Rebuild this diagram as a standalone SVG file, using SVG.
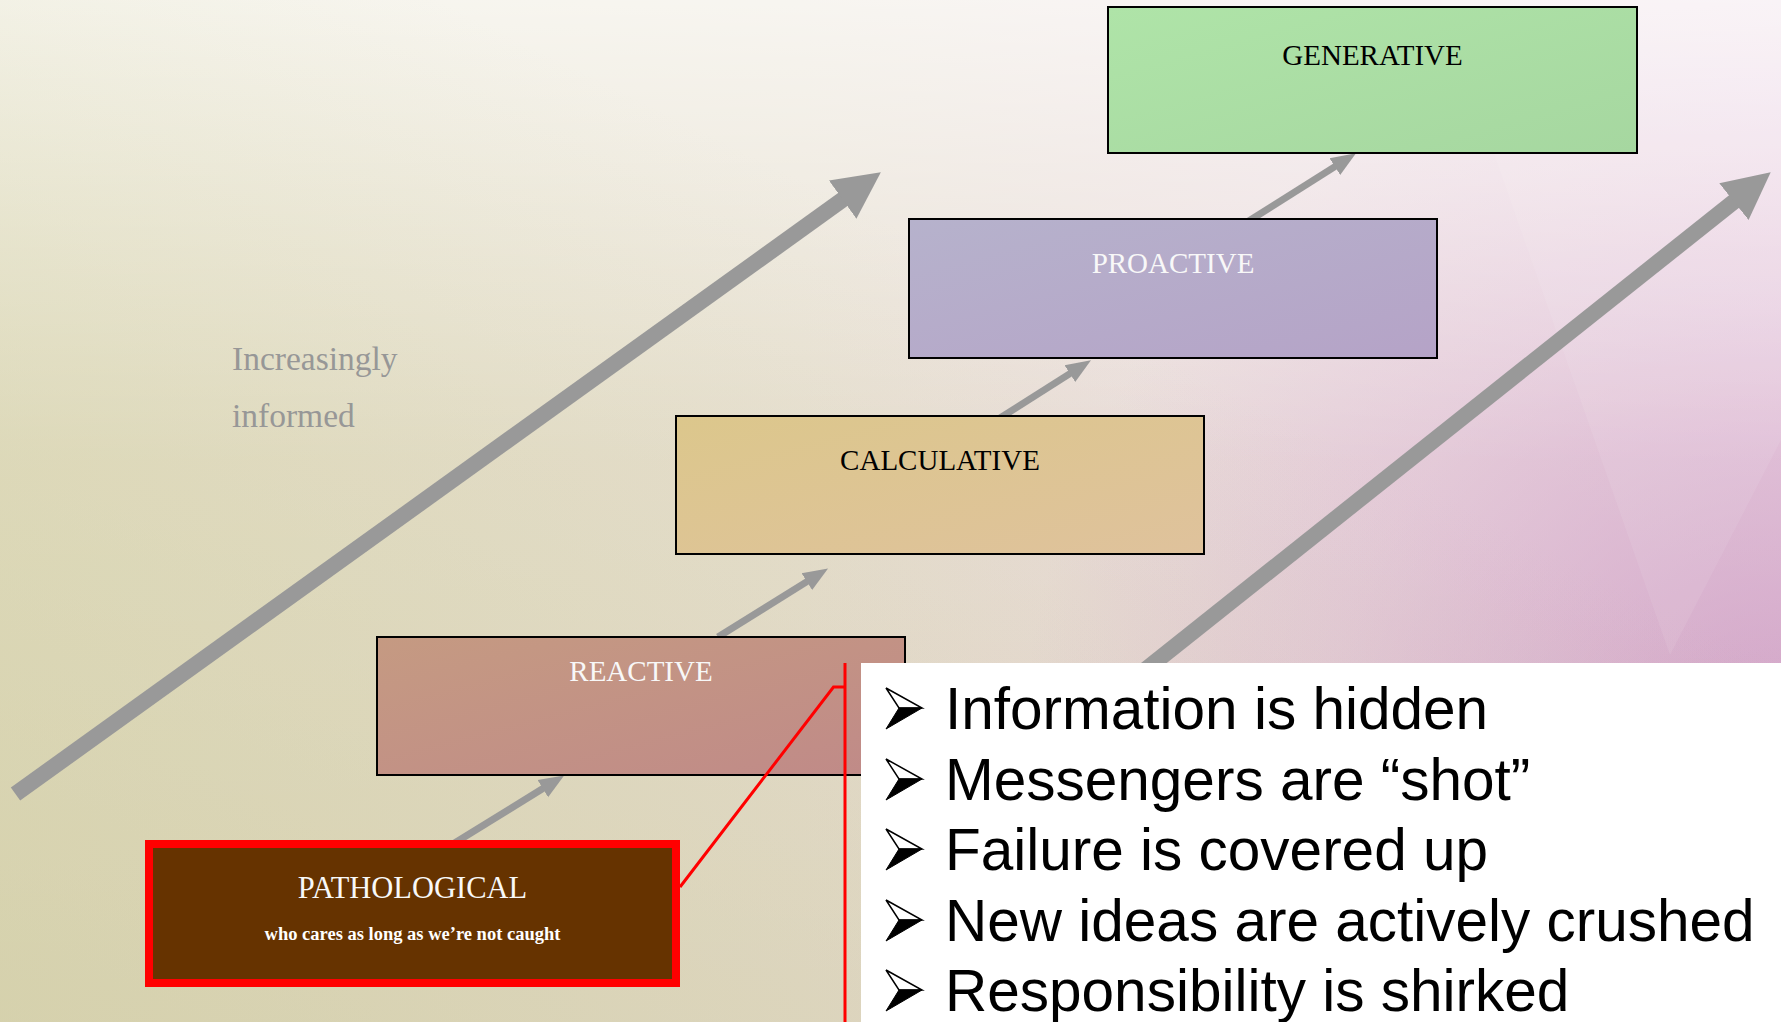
<svg xmlns="http://www.w3.org/2000/svg" xmlns:xlink="http://www.w3.org/1999/xlink" width="1781" height="1022" viewBox="0 0 1781 1022">
  <defs>
    <linearGradient id="bgx" x1="0" y1="0" x2="1" y2="0">
      <stop offset="0" stop-color="#e0dcbc"/>
      <stop offset="0.45" stop-color="#e4dccb"/>
      <stop offset="0.75" stop-color="#e8d6da"/>
      <stop offset="1" stop-color="#ebd2e2"/>
    </linearGradient>
    <linearGradient id="bgy" x1="0" y1="0" x2="0" y2="1">
      <stop offset="0" stop-color="#ffffff" stop-opacity="0.72"/>
      <stop offset="0.45" stop-color="#ffffff" stop-opacity="0.1"/>
      <stop offset="1" stop-color="#ffffff" stop-opacity="0"/>
    </linearGradient>
    <radialGradient id="bgr" gradientUnits="userSpaceOnUse" cx="1781" cy="760" r="760">
      <stop offset="0" stop-color="#c48cb8" stop-opacity="0.75"/>
      <stop offset="0.6" stop-color="#c890bc" stop-opacity="0.25"/>
      <stop offset="1" stop-color="#c890bc" stop-opacity="0"/>
    </radialGradient>
    <linearGradient id="bgd" x1="0" y1="1" x2="0.6" y2="0.3">
      <stop offset="0" stop-color="#c9c49a" stop-opacity="0.45"/>
      <stop offset="1" stop-color="#c9c49a" stop-opacity="0"/>
    </linearGradient>
    <linearGradient id="gGen" x1="0" y1="0" x2="1" y2="1">
      <stop offset="0" stop-color="#afe4a8"/>
      <stop offset="1" stop-color="#a6d7a0"/>
    </linearGradient>
    <linearGradient id="gPro" x1="0" y1="0" x2="1" y2="1">
      <stop offset="0" stop-color="#b6b2cc"/>
      <stop offset="1" stop-color="#b5a3c7"/>
    </linearGradient>
    <linearGradient id="gCal" x1="0" y1="0" x2="1" y2="1">
      <stop offset="0" stop-color="#dcc78c"/>
      <stop offset="1" stop-color="#dfc29c"/>
    </linearGradient>
    <linearGradient id="gRea" x1="0" y1="0" x2="1" y2="1">
      <stop offset="0" stop-color="#c59a82"/>
      <stop offset="1" stop-color="#c08a88"/>
    </linearGradient>
    <marker id="hs" markerUnits="userSpaceOnUse" markerWidth="26" markerHeight="22" viewBox="0 -11 26 22" refX="1" refY="0" orient="auto">
      <path d="M0,-10 L25,0 L0,10 Z" fill="#999999"/>
    </marker>
    <marker id="hb" markerUnits="userSpaceOnUse" markerWidth="48" markerHeight="50" viewBox="0 -25 48 50" refX="1" refY="0" orient="auto">
      <path d="M0,-23.5 L47,0 L0,23.5 Z" fill="#999999"/>
    </marker>
    <g id="bul">
      <path d="M886,-41 L922,-21 L899,-21 Z" fill="#ffffff" stroke="#000000" stroke-width="1.5" stroke-linejoin="miter"/>
      <path d="M899,-21 L922,-21 L886,0 Z" fill="#000000" stroke="#000000" stroke-width="1"/>
    </g>
  </defs>
  <style>
    .box { stroke: #000000; stroke-width: 2; }
    .lbl { font-family: "Liberation Serif", "DejaVu Serif", serif; font-size: 29px; text-anchor: middle; }
    .dark { fill: #000000; }
    .light { fill: #f8f8f8; }
    .sub { font-family: "Liberation Serif", "DejaVu Serif", serif; font-size: 18.5px; font-weight: bold; text-anchor: middle; fill: #ffffff; }
    .note { font-family: "Liberation Serif", "DejaVu Serif", serif; font-size: 33.5px; fill: #979797; }
    .big { stroke: #999999; stroke-width: 16; fill: none; }
    .small { stroke: #999999; stroke-width: 7; fill: none; }
    .bt { font-family: "Liberation Sans", Arial, sans-serif; font-size: 58.5px; fill: #000000; }
  </style>

  <!-- background -->
  <rect x="0" y="0" width="1781" height="1022" fill="url(#bgx)"/>
  <rect x="0" y="0" width="1781" height="1022" fill="url(#bgr)"/>
  <rect x="0" y="0" width="1781" height="1022" fill="url(#bgy)"/>
  <rect x="0" y="0" width="1781" height="1022" fill="url(#bgd)"/>
  <polygon points="1440,0 1781,0 1781,440 1670,655" fill="#ffffff" opacity="0.08"/>

  <text class="note" x="232" y="370">Increasingly</text>
  <text class="note" x="232" y="427">informed</text>

  <!-- connectors -->
  <g id="connectors">
    <line class="big" x1="15.5" y1="794" x2="843.5" y2="199.1" marker-end="url(#hb)"/>
    <line class="big" x1="1032" y1="760" x2="1734.7" y2="201" marker-end="url(#hb)"/>
    <line class="small" x1="453" y1="844" x2="543.7" y2="788.1" marker-end="url(#hs)"/>
    <line class="small" x1="718" y1="637" x2="807.7" y2="581.1" marker-end="url(#hs)"/>
    <line class="small" x1="981" y1="430" x2="1070.7" y2="373.1" marker-end="url(#hs)"/>
    <line class="small" x1="1244" y1="224" x2="1335.7" y2="166.1" marker-end="url(#hs)"/>
  </g>

  <g id="generative">
    <rect class="box" x="1108" y="7" width="529" height="146" fill="url(#gGen)"/>
    <text class="lbl dark" x="1372.5" y="65">GENERATIVE</text>
  </g>
  <g id="proactive">
    <rect class="box" x="909" y="219" width="528" height="139" fill="url(#gPro)"/>
    <text class="lbl light" x="1173" y="273">PROACTIVE</text>
  </g>
  <g id="calculative">
    <rect class="box" x="676" y="416" width="528" height="138" fill="url(#gCal)"/>
    <text class="lbl dark" x="940" y="470">CALCULATIVE</text>
  </g>
  <g id="reactive">
    <rect class="box" x="377" y="637" width="528" height="138" fill="url(#gRea)"/>
    <text class="lbl light" x="641" y="681">REACTIVE</text>
  </g>
  <g id="pathological">
    <rect x="149" y="844" width="527" height="139" fill="#663300" stroke="#ff0000" stroke-width="8"/>
    <text class="lbl light" x="412.5" y="898" style="font-size:30.5px">PATHOLOGICAL</text>
    <text class="sub" x="412.5" y="940">who cares as long as we’re not caught</text>
  </g>

  <!-- callout -->
  <g id="callout">
    <polyline points="680,887 833.5,687 846,687" fill="none" stroke="#ff0000" stroke-width="3"/>
    <line x1="845" y1="663" x2="845" y2="1022" stroke="#ff0000" stroke-width="3"/>
    <rect x="861" y="663" width="920" height="359" fill="#ffffff"/>
    <use xlink:href="#bul" y="729"/>
    <use xlink:href="#bul" y="800"/>
    <use xlink:href="#bul" y="870"/>
    <use xlink:href="#bul" y="941"/>
    <use xlink:href="#bul" y="1011"/>
    <text class="bt" x="945" y="729">Information is hidden</text>
    <text class="bt" x="945" y="800">Messengers are “shot”</text>
    <text class="bt" x="945" y="870">Failure is covered up</text>
    <text class="bt" x="945" y="941">New ideas are actively crushed</text>
    <text class="bt" x="945" y="1011">Responsibility is shirked</text>
  </g>
</svg>
